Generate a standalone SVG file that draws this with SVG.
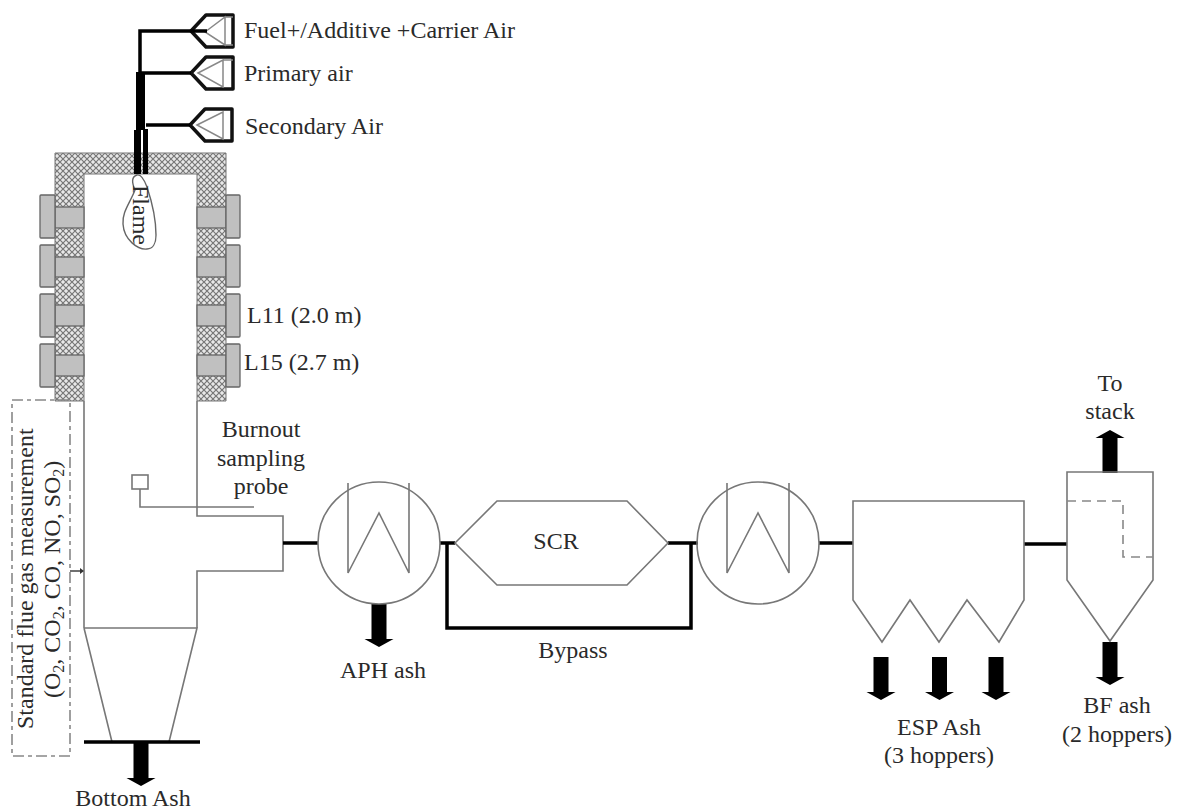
<svg xmlns="http://www.w3.org/2000/svg" width="1178" height="809" viewBox="0 0 1178 809">
<style>
text{font-family:"Liberation Serif","Times New Roman",serif;font-size:24px;fill:#2a2a2a}
.thin{fill:none;stroke:#777;stroke-width:1.6}
.th{fill:none;stroke:#000;stroke-width:3.5}
.fun{fill:none;stroke:#111;stroke-width:3.5;stroke-linejoin:round}
.in{fill:none;stroke:#888;stroke-width:1.5}
.gray{fill:#c0c0c0;stroke:#666;stroke-width:1.3}
.hat{fill:url(#h);stroke:#777;stroke-width:1}
.dash{fill:none;stroke:#888;stroke-width:1.6;stroke-dasharray:9 6}
.dd{fill:none;stroke:#888;stroke-width:1.6;stroke-dasharray:11 4 4 4}
</style>
<defs>
<pattern id="h" width="6" height="6" patternUnits="userSpaceOnUse"><rect width="6" height="6" fill="#e8e8e8"/><path d="M0 0L6 6M6 0L0 6" stroke="#777" stroke-width="1.2"/></pattern>
<path id="ar" d="M-7.500 0H7.500V35H14.500L0 43L-14.500 35H-7.500Z" fill="#000"/>
<path id="fo" class="fun" d="M0 0L15 -16H42V16H15Z"/>
</defs>
<g id="furnace">
<path class="hat" d="M55 153H226V401H197V174H84V401H55Z"/>
<path class="thin" d="M84 401V628M197 401V516H283V571H197V628M84 628H197L169 742M84 628L112 742"/>
</g>
<g id="heaters">
<rect class="gray" x="55" y="207" width="29" height="21"/><rect class="gray" x="55" y="257" width="29" height="20"/><rect class="gray" x="55" y="305" width="29" height="21"/><rect class="gray" x="55" y="355" width="29" height="21"/>
<rect class="gray" x="197" y="207" width="29" height="21"/><rect class="gray" x="197" y="257" width="29" height="20"/><rect class="gray" x="197" y="305" width="29" height="21"/><rect class="gray" x="197" y="355" width="29" height="21"/>
<rect class="gray" x="40" y="195" width="15" height="43" rx="1"/><rect class="gray" x="40" y="245" width="15" height="42" rx="1"/><rect class="gray" x="40" y="294" width="15" height="43" rx="1"/><rect class="gray" x="40" y="344" width="15" height="43" rx="1"/>
<rect class="gray" x="226" y="195" width="14" height="43" rx="1"/><rect class="gray" x="226" y="245" width="14" height="42" rx="1"/><rect class="gray" x="226" y="294" width="14" height="43" rx="1"/><rect class="gray" x="226" y="344" width="14" height="43" rx="1"/>
</g>
<g id="burner">
<use href="#fo" x="191" y="31"/><use href="#fo" x="191" y="73"/><use href="#fo" x="190" y="125"/>
<path class="in" d="M205 32L225 17V45ZM225 17H233M225 45H233"/><path class="th" d="M191 31H207"/>
<path class="in" d="M198 73L223 60V87ZM223 60H233"/>
<path class="in" d="M197 125L223 112V139Z"/>
</g>
<g id="flame"><path d="M137 175C131 177 132 183 135 190C130 203 122 212 123 224C124 240 138 250 147 249C153 249 156 243 156 235C156 220 153 205 147 187C144 179 141 174 137 175Z" fill="#fff" stroke="#666" stroke-width="1.4"/>
<text transform="translate(133 185) rotate(90)">Flame</text></g>
<g id="connectors">
<path class="th" d="M191 31H140V73M191 73H140M190 125H146"/>
<path d="M136 72H145V129H148V174H143V130H141V174H134V130H136Z" fill="#000"/>
<path class="th" d="M283 543H318M440 543H455M668 543H698M819 543H853M1024 544H1067M84 742H200"/>
<path class="th" d="M447 543V628H691V543"/>
<path d="M70 571H82" stroke="#333" stroke-width="1.4"/><path d="M80 568L84 571L80 574Z" fill="#333"/>
<use href="#ar" x="141" y="743"/><use href="#ar" x="379" y="604"/><use href="#ar" x="881" y="657"/><use href="#ar" x="939.500" y="657"/><use href="#ar" x="996" y="657"/><use href="#ar" x="1110" y="642"/><use href="#ar" transform="translate(1110 473) scale(1 -1)"/>
</g>
<g id="probe"><rect class="thin" x="132" y="475" width="16" height="14"/><path class="thin" d="M140 489V507H254"/></g>
<g id="measurement"><rect class="dd" x="12" y="400" width="58" height="356"/></g>
<g id="aph"><circle class="thin" cx="379" cy="543" r="61"/><path class="thin" d="M348 483V573L379 513L409 573V483"/></g>
<g id="scr"><path class="thin" d="M455 543L497 501H627L668 543L627 585H497Z"/></g>
<g id="hx2"><circle class="thin" cx="758" cy="543" r="61"/><path class="thin" d="M727 483V573L758 513L789 573V483"/></g>
<g id="esp"><path class="thin" d="M853 501H1024V600L999 642L967 600L939 642L910 600L882 642L853 600Z"/></g>
<g id="bf"><path class="thin" d="M1067 472H1153V580L1110 641L1067 580Z"/><path class="dash" d="M1067 501H1123V557H1153"/></g>
<g id="labels">
<text x="244" y="38">Fuel+/Additive +Carrier Air</text>
<text x="244" y="81">Primary air</text>
<text x="245" y="134">Secondary Air</text>
<text x="247" y="323">L11 (2.0 m)</text>
<text x="244" y="370">L15 (2.7 m)</text>
<text x="261" y="437" text-anchor="middle">Burnout</text>
<text x="261" y="466" text-anchor="middle">sampling</text>
<text x="261" y="494" text-anchor="middle">probe</text>
<text x="556" y="549" text-anchor="middle">SCR</text>
<text x="573" y="658" text-anchor="middle">Bypass</text>
<text x="383" y="678" text-anchor="middle">APH ash</text>
<text x="939" y="735" text-anchor="middle">ESP Ash</text>
<text x="939" y="763" text-anchor="middle">(3 hoppers)</text>
<text x="1117" y="713" text-anchor="middle">BF ash</text>
<text x="1117" y="742" text-anchor="middle">(2 hoppers)</text>
<text x="1110" y="391" text-anchor="middle">To</text>
<text x="1110" y="419" text-anchor="middle">stack</text>
<text x="133" y="806" text-anchor="middle">Bottom Ash</text>
<text transform="translate(33 729) rotate(-90)">Standard flue gas measurement</text>
<text transform="translate(60 698) rotate(-90)">(O<tspan font-size="16" dy="4">2</tspan><tspan dy="-4">, CO</tspan><tspan font-size="16" dy="4">2</tspan><tspan dy="-4">, CO, NO, SO</tspan><tspan font-size="16" dy="4">2</tspan><tspan dy="-4">)</tspan></text>
</g>
</svg>
